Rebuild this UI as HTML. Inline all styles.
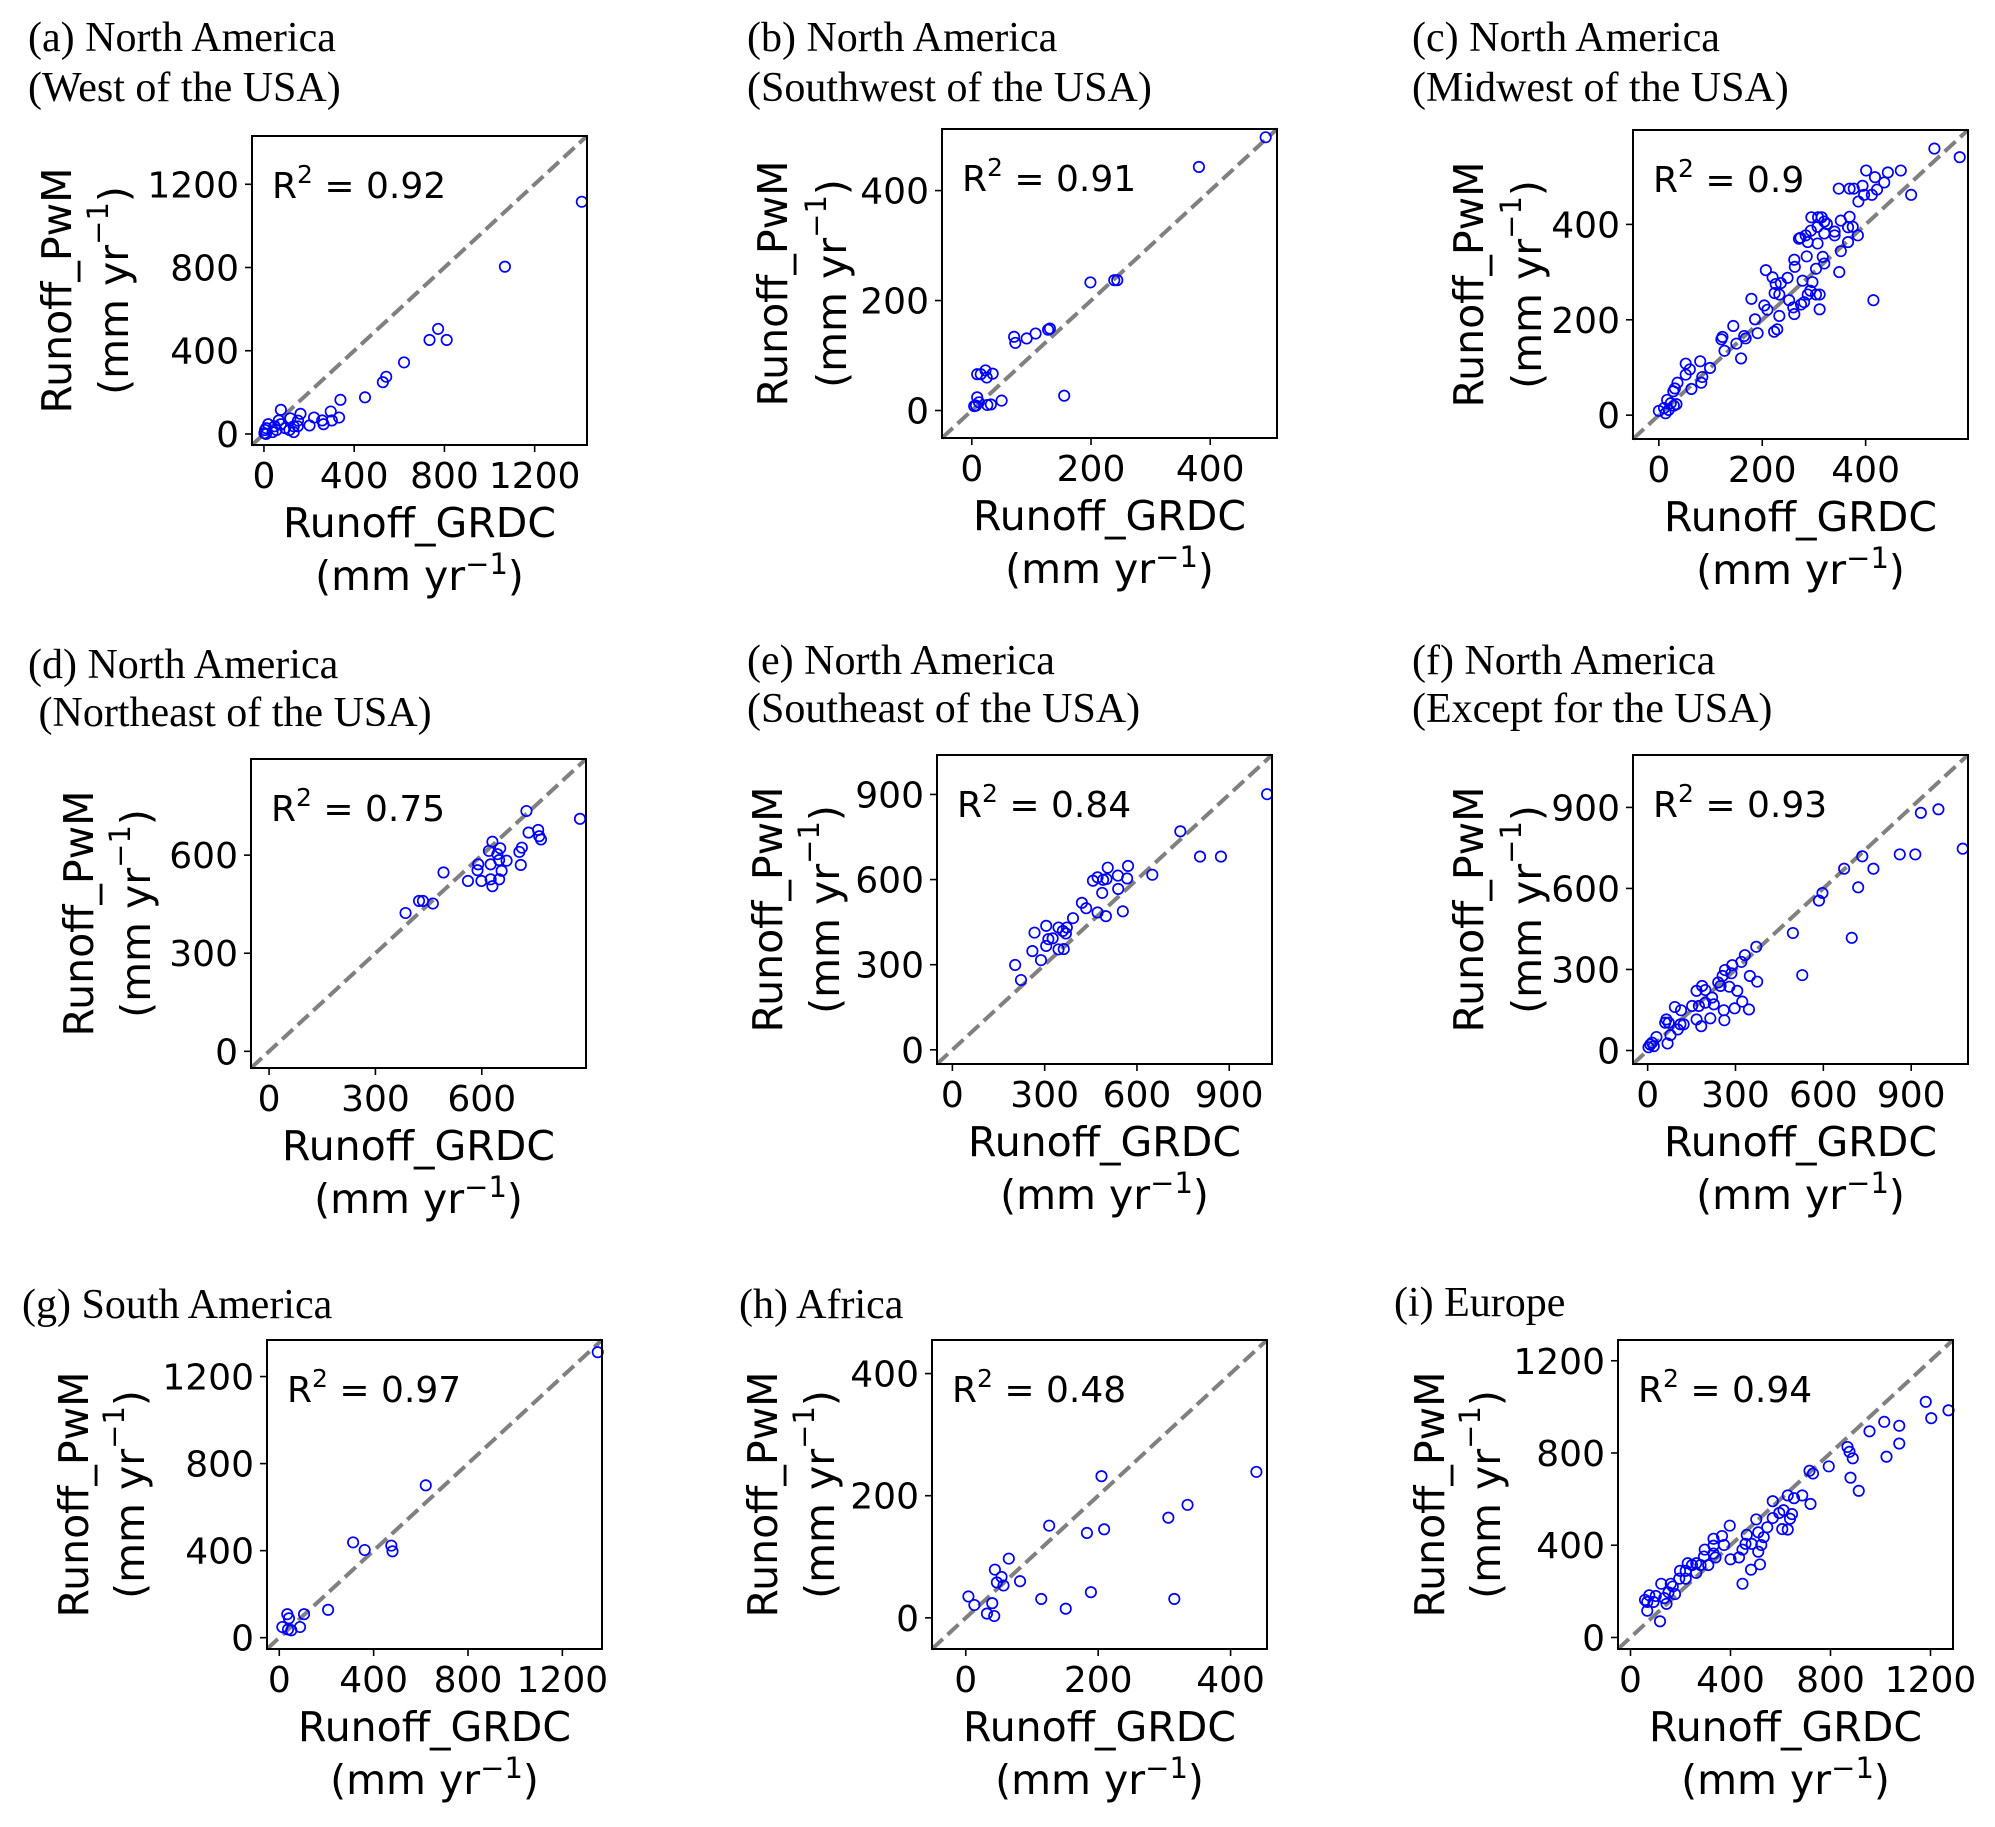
<!DOCTYPE html>
<html><head><meta charset="utf-8"><style>
html,body{margin:0;padding:0;background:#fff}
svg{display:block}
text{white-space:pre}
</style></head><body>
<svg id="fig" xmlns="http://www.w3.org/2000/svg" width="1995" height="1827" viewBox="0 0 1995 1827"></svg>
<script>
// ---- data (GRDC x, PwM y) ----
const aX=[1409,1068,772,734,810,621,542,527,448,339,333,296,301,264,258,222,202,162,151,132,117,113,75,75,66,56,38,19,9,5,10,94,132,150,47,2];
const aY=[1116,804,505,452,452,344,275,249,176,164,79,108,65,47,65,79,41,97,64,37,75,19,116,47,65,19,9,47,0,19,28,28,9,37,37,4];
const bX=[493,381,199,239,244,131,128,107,92,71,73,9,23,35,25,15,155,50,9,7,12,26,32,4];
const bY=[497,443,233,237,237,149,147,140,131,134,123,66,73,67,60,66,27,18,24,9,15,10,11,8];
const cX=[533,582,468,401,418,443,436,422,488,394,377,369,348,412,397,386,295,308,315,320,325,307,294,284,271,274,288,307,320,340,340,352,369,366,375,385,366,352,349,317,320,304,286,262,263,207,220,249,236,226,233,224,278,297,293,288,311,304,311,281,275,260,262,233,252,204,210,415,179,186,191,223,229,144,123,121,127,150,165,168,159,80,99,84,82,52,60,52,63,36,31,28,16,23,29,10,0,13,19,34];
const cY=[559,541,513,513,499,509,488,473,462,481,475,475,475,462,462,448,415,415,415,406,401,395,387,377,370,372,363,360,381,385,377,408,416,394,395,377,363,344,300,332,318,307,333,326,311,304,289,288,277,275,253,256,282,279,261,253,253,253,222,237,232,226,212,208,241,230,221,241,244,201,172,175,180,187,164,159,135,150,166,161,119,113,99,80,68,108,96,85,55,68,56,50,32,25,20,15,9,4,11,23];
const dX=[877,726,732,759,762,767,706,713,710,670,656,652,644,630,620,625,649,649,630,625,599,590,588,561,492,462,434,423,385];
const dY=[711,735,669,677,658,648,610,623,570,583,552,621,603,641,613,572,585,526,505,526,521,572,554,521,547,452,460,460,423];
const eX=[1023,741,805,873,650,571,568,538,539,505,501,490,472,457,487,421,435,472,499,554,392,372,345,359,369,305,267,312,326,305,260,345,362,288,204,223];
const eY=[901,770,681,681,617,648,604,614,567,642,602,599,608,596,553,518,499,484,471,488,464,431,431,419,410,437,413,390,393,366,348,354,355,316,299,246];
const fX=[993,933,1076,861,914,733,771,671,719,697,597,585,496,528,371,332,320,289,264,256,241,286,349,374,306,279,249,323,297,346,260,262,214,186,167,197,220,226,197,175,152,93,114,183,167,123,103,112,64,72,60,78,68,30,9,3,15,21];
const fY=[893,880,747,726,726,719,673,673,604,417,583,555,435,279,384,353,328,316,298,276,252,286,276,255,221,236,239,181,156,152,149,112,119,239,221,224,196,171,177,165,165,161,149,90,115,97,78,97,115,103,103,57,26,50,22,12,29,16];
const gX=[1350,621,313,362,475,480,207,105,34,41,13,88,51,37];
const gY=[1312,700,438,403,423,397,128,108,108,89,49,49,34,38];
const hX=[439,205,335,306,209,183,126,65,44,54,47,57,82,4,13,40,32,43,114,151,189,315];
const hY=[239,232,185,164,145,139,151,97,79,67,58,53,60,35,21,24,7,3,31,15,42,31];
const iX=[1272,1181,1203,1015,1075,1075,1024,956,868,876,889,880,913,793,716,730,687,720,654,629,638,646,612,595,569,569,629,607,547,503,511,533,523,511,518,482,485,465,460,448,448,434,397,400,374,366,332,340,311,297,294,280,263,246,229,221,198,195,169,161,123,118,152,178,135,92,75,67,58,67,101,144,221,263,332,332];
const iY=[985,1022,951,935,918,841,784,894,826,805,777,693,636,742,723,711,616,579,604,616,515,535,552,540,591,518,468,470,478,512,456,435,401,372,317,294,406,445,406,381,233,347,485,339,401,440,428,347,314,381,351,314,280,314,322,289,289,255,221,233,233,70,196,188,171,154,183,154,163,116,180,146,255,322,364,398];
const r2Labels=["0.92","0.91","0.9","0.75","0.84","0.93","0.97","0.48","0.94"];
const ticksA=[0,400,800,1200], ticksB=[0,200,400], ticksC=[0,200,400], ticksD=[0,300,600];
const ticksE=[0,300,600,900], ticksF=[0,300,600,900], ticksG=[0,400,800,1200], ticksH=[0,200,400], ticksI=[0,400,800,1200];
const titleLines=[["(a) North America","(West of the USA)"],["(b) North America","(Southwest of the USA)"],["(c) North America","(Midwest of the USA)"],["(d) North America"," (Northeast of the USA)"],["(e) North America","(Southeast of the USA)"],["(f) North America","(Except for the USA)"],["(g) South America"],["(h) Africa"],["(i) Europe"]];

// ---- layout ----
const W=335,H=309;
const panels=[
 {id:'a',L:252,T:136,lo:-53,hi:1432,xs:aX,ys:aY,ticks:ticksA,tx:28,ty:[51,101],yo:[-195,-138]},
 {id:'b',L:942,T:129,lo:-50,hi:512,xs:bX,ys:bY,ticks:ticksB,tx:747,ty:[51,101],yo:[-169,-110]},
 {id:'c',L:1633,T:130,lo:-50,hi:598,xs:cX,ys:cY,ticks:ticksC,tx:1412,ty:[51,101],yo:[-164,-106]},
 {id:'d',L:251,T:759,lo:-51,hi:894,xs:dX,ys:dY,ticks:ticksD,tx:28,ty:[678,726],yo:[-172,-115]},
 {id:'e',L:937,T:755,lo:-50,hi:1039,xs:eX,ys:eY,ticks:ticksE,tx:747,ty:[674,722],yo:[-169,-112]},
 {id:'f',L:1633,T:755,lo:-50,hi:1094,xs:fX,ys:fY,ticks:ticksF,tx:1412,ty:[674,722],yo:[-164,-106]},
 {id:'g',L:267,T:1340,lo:-52,hi:1368,xs:gX,ys:gY,ticks:ticksG,tx:22,ty:[1318],yo:[-193,-137]},
 {id:'h',L:932,T:1340,lo:-51,hi:455,xs:hX,ys:hY,ticks:ticksH,tx:739,ty:[1318],yo:[-169,-112]},
 {id:'i',L:1618,T:1340,lo:-50,hi:1290,xs:iX,ys:iY,ticks:ticksI,tx:1394,ty:[1316],yo:[-188,-132]}
];
const NS='http://www.w3.org/2000/svg';
const svg=document.getElementById('fig');
function mk(tag,attrs,parent){const e=document.createElementNS(NS,tag);for(const k in attrs)e.setAttribute(k,attrs[k]);parent.appendChild(e);return e;}
const SANS='"DejaVu Sans","Liberation Sans",sans-serif', SERIF='"Liberation Serif","Times New Roman",serif';
const TF=36, LF=41, TTF=42;
panels.forEach((p,pi)=>{
  const g=mk('g',{},svg);
  
  
  const sx=v=>p.L+(v-p.lo)/(p.hi-p.lo)*W;
  const sy=v=>p.T+H-(v-p.lo)/(p.hi-p.lo)*H;
  p.ty.forEach((y,li)=>{
    const t=mk('text',{x:p.tx,y:y,'font-family':SERIF,'font-size':TTF,fill:'#000'},g);
    
    
    t.textContent=titleLines[pi][li];
  });
  const dl=mk('line',{x1:sx(p.lo),y1:sy(p.lo),x2:sx(p.hi),y2:sy(p.hi),stroke:'#808080','stroke-width':4,'stroke-dasharray':'14.8 6.4'},g);
  
  
  p.xs.forEach((xv,k)=>{
    const c=mk('circle',{cx:sx(xv),cy:sy(p.ys[k]),r:5.2,fill:'none',stroke:'#0000ff','stroke-width':1.7},g);
    
    
  });
  const fr=mk('rect',{x:p.L,y:p.T,width:W,height:H,fill:'none',stroke:'#000','stroke-width':2},g);
  
  
  p.ticks.forEach(v=>{
    const X=sx(v),Y=sy(v);
    const tl=mk('line',{x1:X,y1:p.T+H,x2:X,y2:p.T+H+7,stroke:'#000','stroke-width':1.6},g);
    
    
    const tt=mk('text',{x:X,y:p.T+H+43,'text-anchor':'middle','font-family':SANS,'font-size':TF,fill:'#000'},g);
    
    
    tt.textContent=String(v);
    const yl=mk('line',{x1:p.L,y1:Y,x2:p.L-7,y2:Y,stroke:'#000','stroke-width':1.6},g);
    
    
    const yt=mk('text',{x:p.L-13,y:Y+13,'text-anchor':'end','font-family':SANS,'font-size':TF,fill:'#000'},g);
    
    
    yt.textContent=String(v);
  });
  const r=mk('text',{x:p.L+20,y:p.T+62,'font-family':SANS,'font-size':TF,fill:'#000'},g);
  
  
  r.innerHTML='R<tspan font-size="25" dy="-15">2</tspan><tspan dy="15"> = '+r2Labels[pi]+'</tspan>';
  const cx=p.L+W/2;
  const xl1=mk('text',{x:cx,y:p.T+H+92,'text-anchor':'middle','font-family':SANS,'font-size':LF,fill:'#000'},g);
  
  
  xl1.textContent='Runoff_GRDC';
  const xl2=mk('text',{x:cx,y:p.T+H+145,'text-anchor':'middle','font-family':SANS,'font-size':LF,fill:'#000'},g);
  
  
  xl2.innerHTML='(mm yr<tspan font-size="29" dy="-16">\u22121</tspan><tspan dy="16">)</tspan>';
  const cy=p.T+H/2;
  const yl1=mk('text',{x:0,y:0,'text-anchor':'middle','dominant-baseline':'central','font-family':SANS,'font-size':LF,fill:'#000',transform:`translate(${p.L+p.yo[0]},${cy}) rotate(-90)`},g);
  
  
  yl1.textContent='Runoff_PwM';
  const yl2=mk('text',{x:0,y:0,'text-anchor':'middle','dominant-baseline':'central','font-family':SANS,'font-size':LF,fill:'#000',transform:`translate(${p.L+p.yo[1]},${cy}) rotate(-90)`},g);
  
  
  yl2.innerHTML='(mm yr<tspan font-size="29" dy="-16">\u22121</tspan><tspan dy="16">)</tspan>';
});
</script>
</body></html>
